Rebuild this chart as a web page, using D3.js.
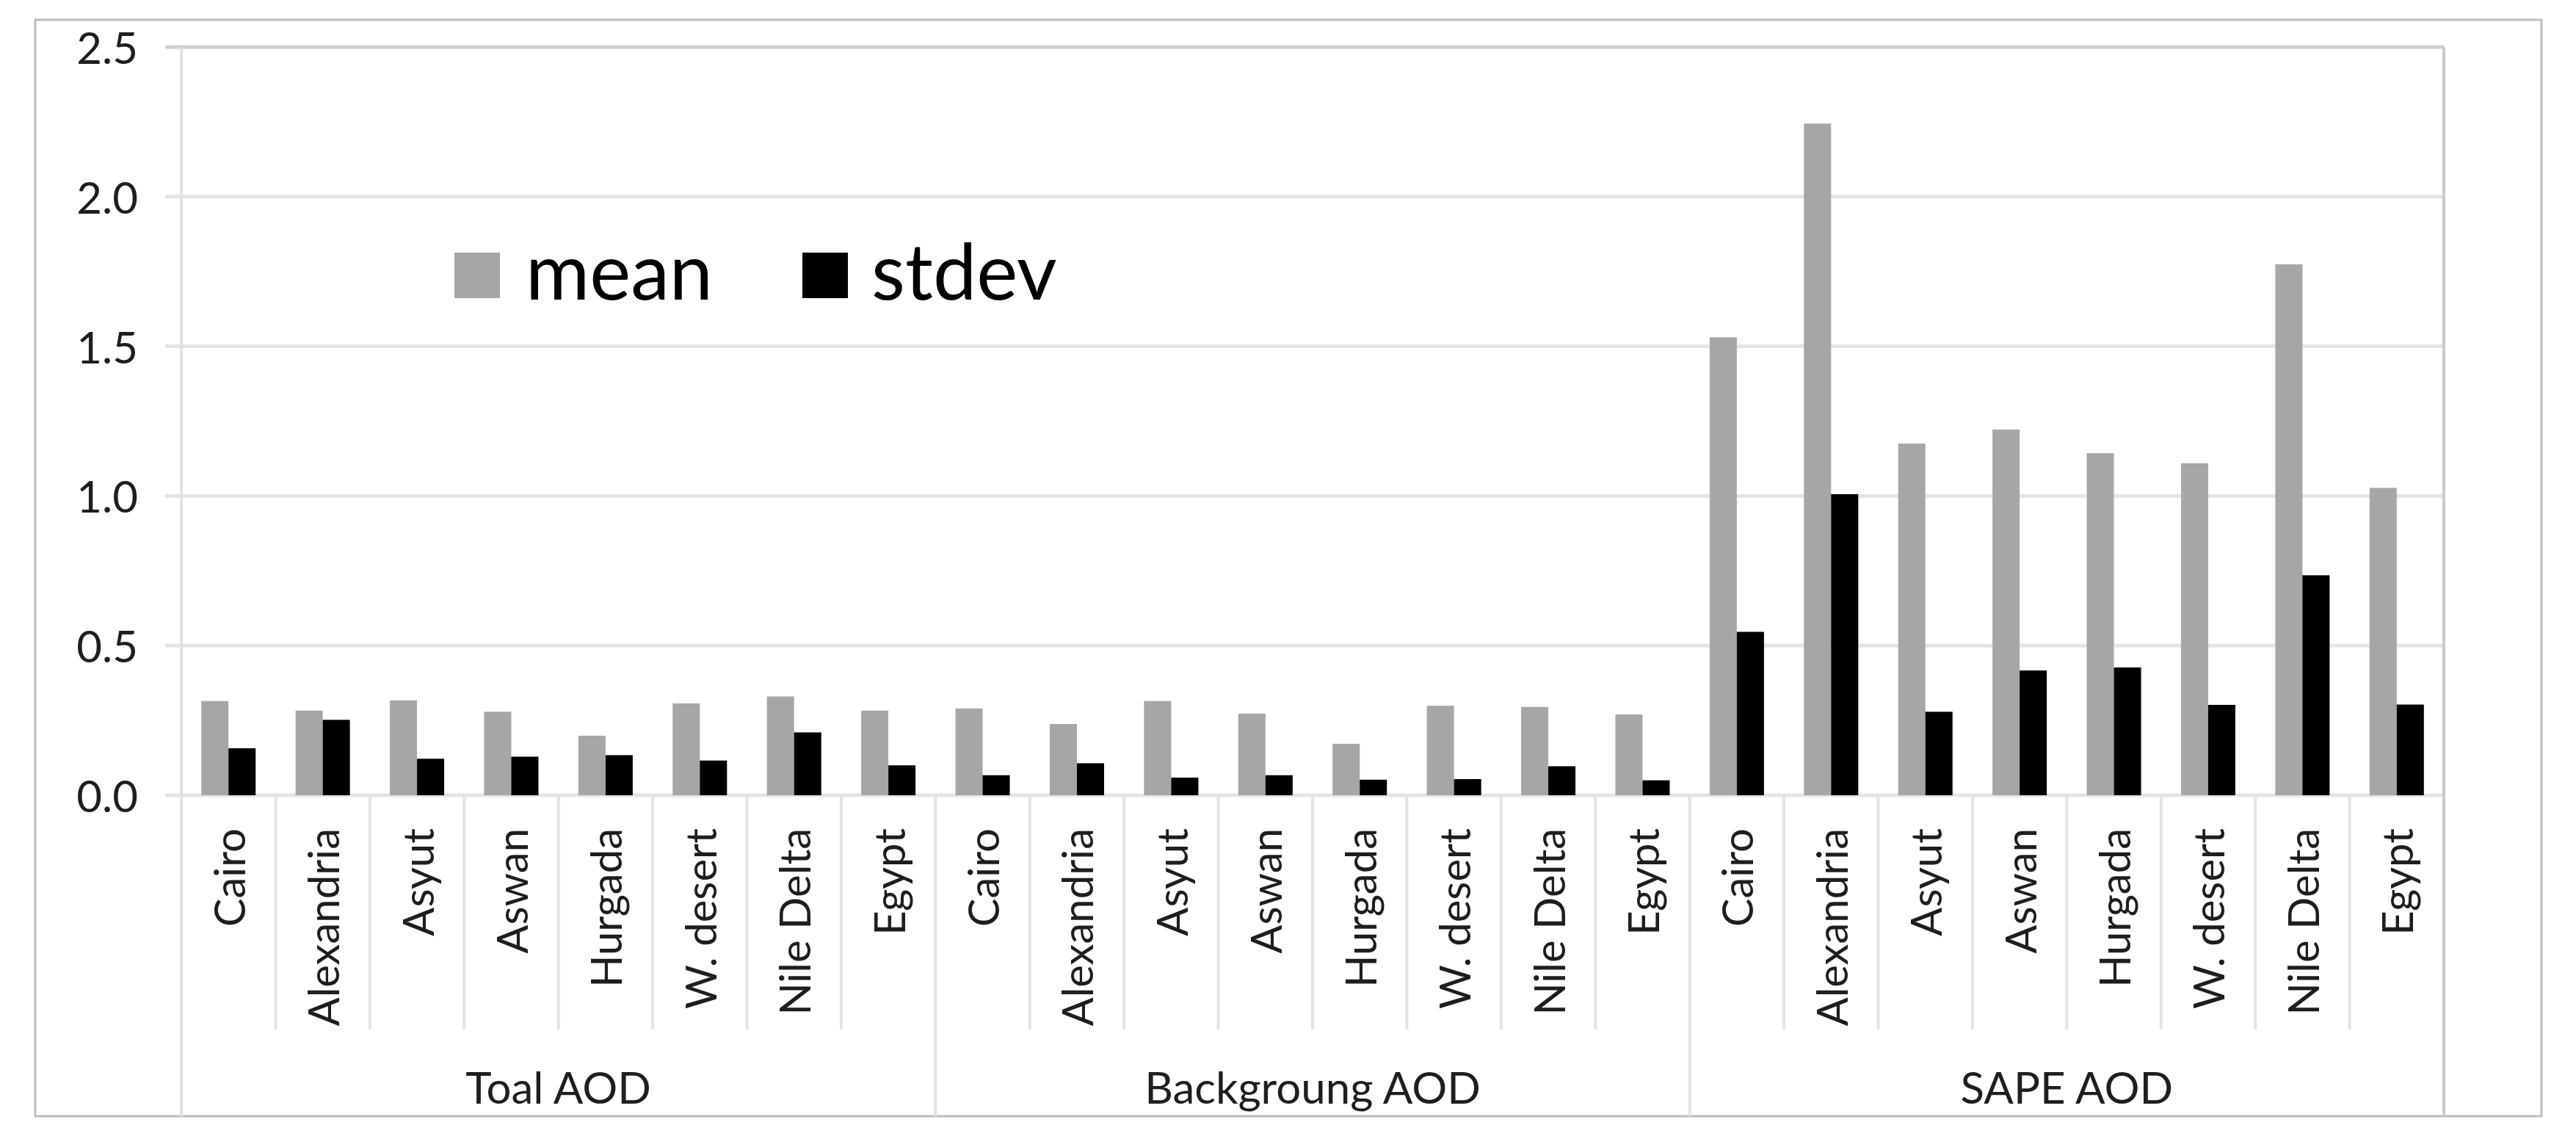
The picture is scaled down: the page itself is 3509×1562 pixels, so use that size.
<!DOCTYPE html>
<html>
<head>
<meta charset="utf-8">
<script src="https://cdn.jsdelivr.net/npm/d3@7"></script>
<style>
  body { margin: 0; background: #fff; }
  text { font-family: Lato, "Open Sans", sans-serif; fill: #1e1e1e; }
</style>
</head>
<body>
<svg width="3509" height="1562"></svg>
<script>
// chart data
const groups = ["Toal AOD", "Backgroung AOD", "SAPE AOD"];
const sites = ["Cairo", "Alexandria", "Asyut", "Aswan", "Hurgada", "W. desert", "Nile Delta", "Egypt"];
const series = ["mean", "stdev"];
const meanTotal = [0.315, 0.283, 0.317, 0.279, 0.199, 0.307, 0.330, 0.283];
const stdevTotal = [0.157, 0.252, 0.122, 0.129, 0.134, 0.116, 0.210, 0.100];
const meanBackground = [0.290, 0.238, 0.315, 0.273, 0.172, 0.299, 0.295, 0.270];
const stdevBackground = [0.067, 0.107, 0.059, 0.067, 0.052, 0.054, 0.097, 0.050];
const meanSape = [1.530, 2.244, 1.175, 1.222, 1.143, 1.109, 1.774, 1.027];
const stdevSape = [0.546, 1.006, 0.279, 0.417, 0.427, 0.302, 0.735, 0.303];
const yTicks = [0, 0.5, 1.0, 1.5, 2.0, 2.5];

const colors = { mean: "#a6a6a6", stdev: "#000000" };

let svg = d3.select("svg");
let width = +svg.attr("width");
let height = +svg.attr("height");

// layout of the frame and plot area
let frame = { left: 48, top: 27, right: 3462, bottom: 1520 };
let plot = { left: 247, top: 64, right: 3329, bottom: 1083 };
let sepBottom = 1402;

svg.append("rect").attr("width", width).attr("height", height).style("fill", "#fff");

// rows: one per site per group
let meanByGroup = [meanTotal, meanBackground, meanSape];
let stdevByGroup = [stdevTotal, stdevBackground, stdevSape];
let rows = [];
groups.forEach(function(g, gi) {
    sites.forEach(function(s, si) {
        rows.push({ key: gi + "-" + si, group: gi, site: s, mean: meanByGroup[gi][si], stdev: stdevByGroup[gi][si] });
    });
});

let x = d3.scaleBand()
    .domain(rows.map(d => d.key))
    .range([plot.left, plot.right])
    .padding(0);

let x1 = d3.scaleBand()
    .domain(series)
    .range([0, x.bandwidth()])
    .paddingInner(0)
    .paddingOuter(0.735);

let y = d3.scaleLinear()
    .domain([0, 2.5])
    .range([plot.bottom, plot.top]);

// outer frame
svg.append("rect")
    .attr("x", frame.left).attr("y", frame.top)
    .attr("width", frame.right - frame.left)
    .attr("height", frame.bottom - frame.top)
    .style("fill", "none").style("stroke", "#bdbdbd").style("stroke-width", 3);

// gridlines
svg.append("g").selectAll("line")
    .data(yTicks)
    .enter().append("line")
    .attr("x1", plot.left - 22).attr("x2", plot.right)
    .attr("y1", d => y(d)).attr("y2", d => y(d))
    .style("stroke", d => d === 2.5 ? "#cfcfcf" : "#e4e4e4")
    .style("stroke-width", 5);

// y labels
svg.append("g").selectAll("text")
    .data(yTicks)
    .enter().append("text")
    .attr("x", 188).attr("y", d => y(d))
    .attr("text-anchor", "end")
    .attr("dominant-baseline", "central")
    .style("font-size", "60px")
    .text(d3.format(".1f"));

// category separators
let inner = rows.filter(d => +d.key.split("-")[1] > 0);
svg.append("g").selectAll("line")
    .data(inner)
    .enter().append("line")
    .attr("x1", d => x(d.key)).attr("x2", d => x(d.key))
    .attr("y1", plot.bottom).attr("y2", sepBottom)
    .style("stroke", "#e4e4e4").style("stroke-width", 4);

// group separators + plot edges
let groupEdges = [0, 1, 2].map(gi => x(gi + "-0")).concat([plot.right]);
svg.append("g").selectAll("line")
    .data(groupEdges)
    .enter().append("line")
    .attr("x1", d => d).attr("x2", d => d)
    .attr("y1", (d, i) => i === 0 || i === 3 ? plot.top : plot.bottom)
    .attr("y2", frame.bottom)
    .style("stroke", (d, i) => i === 3 ? "#cacaca" : "#e2e2e2")
    .style("stroke-width", 4);

// bars
let cat = svg.append("g").selectAll("g")
    .data(rows)
    .enter().append("g")
    .attr("transform", d => "translate(" + x(d.key) + ",0)");

cat.selectAll("rect")
    .data(d => series.map(s => ({ s: s, v: d[s] })))
    .enter().append("rect")
    .attr("x", d => x1(d.s))
    .attr("width", x1.bandwidth())
    .attr("y", d => y(d.v))
    .attr("height", d => y(0) - y(d.v))
    .style("fill", d => colors[d.s]);

// rotated site labels
cat.append("text")
    .attr("transform", d => "translate(" + (x.bandwidth() / 2) + "," + (plot.bottom + 45) + ") rotate(-90)")
    .attr("text-anchor", "end")
    .attr("dominant-baseline", "central")
    .style("font-size", "58px")
    .text(d => d.site);

// group labels
svg.append("g").selectAll("text")
    .data(groups)
    .enter().append("text")
    .attr("x", (d, i) => (groupEdges[i] + groupEdges[i + 1]) / 2)
    .attr("y", 1503)
    .attr("text-anchor", "middle")
    .style("font-size", "60px")
    .text(d => d);

// legend
let legendItems = [
    { s: "mean", box: 619, label: 716 },
    { s: "stdev", box: 1093, label: 1187 }
];
let legend = svg.append("g");
legend.selectAll("rect")
    .data(legendItems)
    .enter().append("rect")
    .attr("x", d => d.box).attr("y", 344)
    .attr("width", 62).attr("height", 62)
    .style("fill", d => colors[d.s]);
legend.selectAll("text")
    .data(legendItems)
    .enter().append("text")
    .attr("x", d => d.label).attr("y", 408)
    .style("font-size", "106px")
    .style("fill", "#000")
    .text(d => d.s);
</script>
</body>
</html>
